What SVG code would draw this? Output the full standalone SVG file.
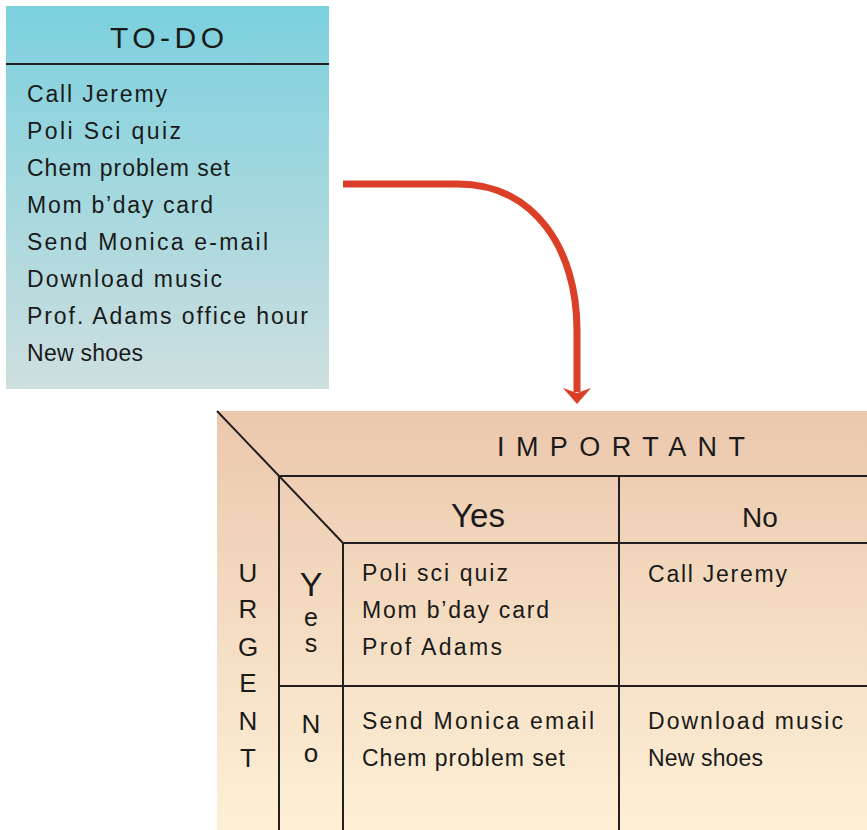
<svg xmlns="http://www.w3.org/2000/svg" width="867" height="830" viewBox="0 0 867 830">
<defs>
<linearGradient id="gTodo" x1="0" y1="0" x2="0" y2="1">
<stop offset="0" stop-color="#7bd0de"/>
<stop offset="1" stop-color="#cedfdf"/>
</linearGradient>
<linearGradient id="gMat" x1="0" y1="0" x2="0" y2="1">
<stop offset="0" stop-color="#ebc8ad"/>
<stop offset="1" stop-color="#fdf0d6"/>
</linearGradient>
</defs>
<style>
text{font-family:"Liberation Sans","Open Sans",sans-serif;fill:#1a1a1a;}
.item{font-size:23px;}
.cell{font-size:23px;}
.hd{font-size:30px;}
.vl{font-size:26px;text-anchor:middle;}
.ln{stroke:#231f20;stroke-width:2;fill:none;}
</style>
<g id="todo">
<rect x="6" y="6" width="323" height="383" fill="url(#gTodo)"/>
<line class="ln" x1="6" y1="64" x2="329" y2="64"/>
<text class="hd" x="110" y="48" textLength="114">TO-DO</text>
<text class="item" x="27" y="102" textLength="140">Call Jeremy</text>
<text class="item" x="27" y="139" textLength="154">Poli Sci quiz</text>
<text class="item" x="27" y="176" textLength="203">Chem problem set</text>
<text class="item" x="27" y="213" textLength="186">Mom b’day card</text>
<text class="item" x="27" y="250" textLength="241">Send Monica e-mail</text>
<text class="item" x="27" y="287" textLength="195">Download music</text>
<text class="item" x="27" y="324" textLength="281">Prof. Adams office hour</text>
<text class="item" x="27" y="361" textLength="116">New shoes</text>
</g>
<g id="connectors">
<path d="M343,184 L458,184 C535,184 577,250 577,330 L577,392" fill="none" stroke="#dc3f28" stroke-width="7"/>
<path d="M563,388 L577,404 L591,388 L577,393 Z" fill="#dc3f28"/>
</g>
<g id="matrix">
<rect x="217" y="411" width="650" height="419" fill="url(#gMat)"/>
<line class="ln" x1="217" y1="411" x2="343" y2="543"/>
<line class="ln" x1="279" y1="476" x2="867" y2="476"/>
<line class="ln" x1="279" y1="476" x2="279" y2="830"/>
<line class="ln" x1="343" y1="543" x2="867" y2="543"/>
<line class="ln" x1="343" y1="543" x2="343" y2="830"/>
<line class="ln" x1="619" y1="476" x2="619" y2="830"/>
<line class="ln" x1="279" y1="686" x2="867" y2="686"/>
</g>
<g id="important-header">
<text x="497" y="456" font-size="27" textLength="248">IMPORTANT</text>
</g>
<g id="col-yes">
<text x="478" y="527" font-size="33" text-anchor="middle">Yes</text>
</g>
<g id="col-no">
<text x="760" y="527" font-size="28" text-anchor="middle">No</text>
</g>
<g id="urgent-label">
<text class="vl"><tspan x="248" y="582">U</tspan><tspan x="248" y="618">R</tspan><tspan x="248" y="656">G</tspan><tspan x="248" y="692">E</tspan><tspan x="248" y="730">N</tspan><tspan x="248" y="767">T</tspan></text>
</g>
<g id="row-yes">
<text text-anchor="middle" font-size="25"><tspan x="311" y="596" font-size="34">Y</tspan><tspan x="311" y="626">e</tspan><tspan x="311" y="652">s</tspan></text>
</g>
<g id="row-no">
<text class="vl"><tspan x="311" y="733">N</tspan><tspan x="311" y="762">o</tspan></text>
</g>
<g id="cell-yes-yes">
<text class="cell" x="362" y="581" textLength="146">Poli sci quiz</text>
<text class="cell" x="362" y="618" textLength="187">Mom b’day card</text>
<text class="cell" x="362" y="655" textLength="140">Prof Adams</text>
</g>
<g id="cell-yes-no">
<text class="cell" x="648" y="582" textLength="139">Call Jeremy</text>
</g>
<g id="cell-no-yes">
<text class="cell" x="362" y="729" textLength="232">Send Monica email</text>
<text class="cell" x="362" y="766" textLength="203">Chem problem set</text>
</g>
<g id="cell-no-no">
<text class="cell" x="648" y="729" textLength="195">Download music</text>
<text class="cell" x="648" y="766" textLength="115">New shoes</text>
</g>
</svg>
